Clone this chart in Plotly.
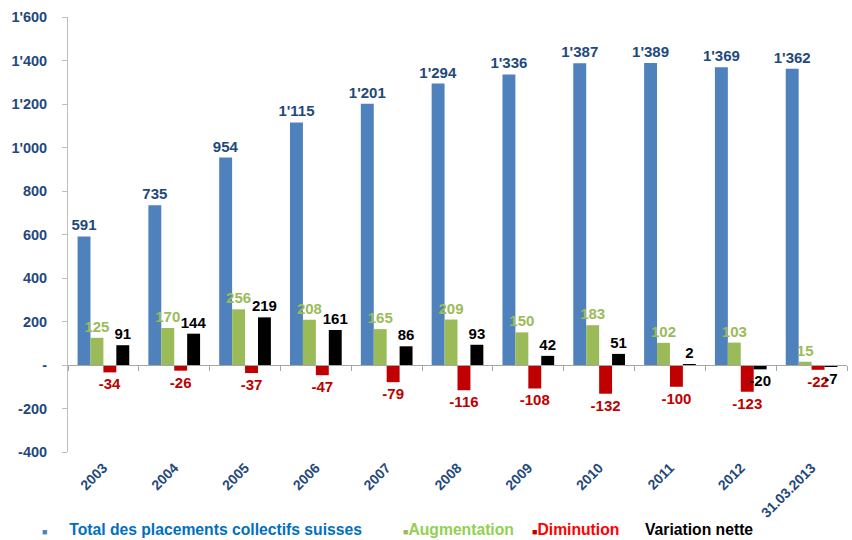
import plotly.graph_objects as go

# Categories and series values
years = ["2003", "2004", "2005", "2006", "2007", "2008", "2009", "2010",
         "2011", "2012", "31.03.2013"]
total = [591, 735, 954, 1115, 1201, 1294, 1336, 1387, 1389, 1369, 1362]
augmentation = [125, 170, 256, 208, 165, 209, 150, 183, 102, 103, 15]
diminution = [-34, -26, -37, -47, -79, -116, -108, -132, -100, -123, -22]
variation = [91, 144, 219, 161, 86, 93, 42, 51, 2, -20, -7]

y_tickvals = [-400, -200, 0, 200, 400, 600, 800, 1000, 1200, 1400, 1600]
y_ticktext = ["-400", "-200", "-", "200", "400", "600", "800", "1'000",
              "1'200", "1'400", "1'600"]
y_range = [-400, 1600]

NAVY = "#1F497D"
FONT = "Arial, Liberation Sans, sans-serif"


def swiss(v):
    """Format a number with an apostrophe as thousands separator."""
    return f"{v:,}".replace(",", "'")


series = [
    ("Total des placements collectifs suisses", total, "#4F81BD", NAVY),
    ("Augmentation", augmentation, "#9BBB59", "#9BBB59"),
    ("Diminution", diminution, "#C00000", "#C00000"),
    ("Variation nette", variation, "#000000", "#000000"),
]

fig = go.Figure()
for name, vals, color, label_color in series:
    fig.add_trace(go.Bar(
        x=years, y=vals, name=name,
        marker=dict(color=color, line=dict(width=0)),
        text=[swiss(v) for v in vals],
        textposition="outside",
        constraintext="none",
        cliponaxis=False,
        textfont=dict(family=FONT, size=15, color=label_color, weight="bold"),
        showlegend=False,
        hoverinfo="skip",
    ))

# Invisible trace that carries the category axis drawn through zero
fig.add_trace(go.Scatter(x=years, y=[None] * len(years), xaxis="x2",
                         showlegend=False, hoverinfo="skip"))

zero_pos = (0 - y_range[0]) / (y_range[1] - y_range[0])
x_range = [-0.5, len(years) - 0.5]

fig.update_layout(
    width=852, height=540,
    margin=dict(l=68, r=5, t=17, b=88),
    paper_bgcolor="white", plot_bgcolor="white",
    barmode="group", bargap=0.27, bargroupgap=0,
    font=dict(family=FONT),
    xaxis=dict(
        type="category", range=x_range, autorange=False,
        showline=False, showgrid=False, zeroline=False,
        ticks="", tickangle=-45, ticklabelstandoff=4,
        tickfont=dict(family=FONT, size=14, color=NAVY, weight="bold"),
    ),
    xaxis2=dict(
        type="category", overlaying="x", matches="x", anchor="free",
        position=zero_pos, side="bottom",
        showline=True, linecolor="#A6A6A6", linewidth=1,
        ticks="outside", tickson="boundaries", ticklen=5,
        tickcolor="#A6A6A6", showticklabels=False, showgrid=False,
    ),
    yaxis=dict(
        range=y_range, tickvals=y_tickvals, ticktext=y_ticktext,
        showgrid=False, zeroline=False,
        showline=True, linecolor="#BFBFBF", linewidth=1,
        ticks="outside", ticklen=5, tickcolor="#BFBFBF",
        ticklabelstandoff=12,
        tickfont=dict(family=FONT, size=14.5, color=NAVY, weight="bold"),
    ),
)

# Legend row along the bottom
legend_items = [
    (-0.036, "#4F81BD", "Total des placements collectifs suisses", "#0070C0", "     "),
    (0.427, "#9BBB59", "Augmentation", "#92D050", ""),
    (0.593, "#C00000", "Diminution", "#FF0000", ""),
    (0.738, None, "Variation nette", "#000000", ""),
]
for xpos, sq_color, label, txt_color, pad in legend_items:
    square = (f"<span style='color:{sq_color};font-size:9px'>■</span>{pad}"
              if sq_color else "")
    fig.add_annotation(
        xref="paper", yref="paper", x=xpos, y=-0.179, yanchor="middle",
        xanchor="left", showarrow=False,
        text=f"{square}<span style='color:{txt_color}'>{label}</span>",
        font=dict(family=FONT, size=15.7, weight="bold"),
    )

fig.write_html("out.html")
